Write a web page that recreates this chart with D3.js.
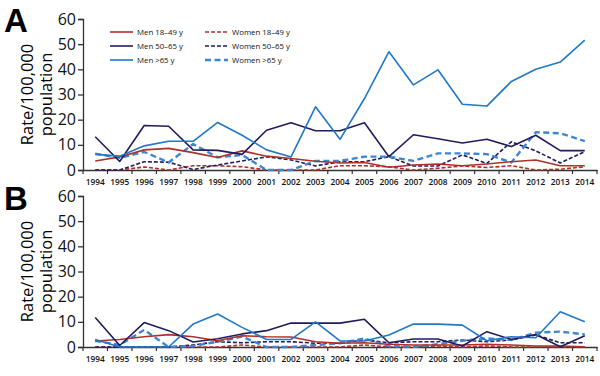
<!DOCTYPE html>
<html>
<head>
<meta charset="utf-8">
<script src="https://cdn.jsdelivr.net/npm/d3@7"></script>
<style>
  body { margin: 0; background: #fff; }
  text { font-family: "Open Sans", "Liberation Sans", sans-serif; }
</style>
</head>
<body>
<div id="chart"></div>
<script>
// years on x axis
const years = d3.range(1994, 2015).map(String);
const yTicks = [0, 10, 20, 30, 40, 50, 60];

// panel A values (rate per 100,000)
const aMen1849 = [3.6, 5.2, 8, 8.6, 6.9, 5, 7.6, 5.5, 4.6, 3.5, 2.8, 3, 1.1, 2, 2.4, 1.7, 2.4, 3.3, 4, 1.7, 1.7];
const aMen5065 = [13.2, 3.4, 17.7, 17.4, 8, 7.8, 6.2, 15.8, 18.8, 15.6, 15.6, 18.8, 5.3, 14, 12.4, 10.7, 12.2, 9.3, 13.8, 7.7, 7.7];
const aMen65 = [6.2, 5.5, 9.6, 11.4, 11.4, 18.9, 13.8, 8, 5.2, 25.1, 12.2, 28.4, 47, 33.8, 39.8, 26.1, 25.4, 35.2, 40, 42.9, 51.6];
const aWomen1849 = [0, 0, 1.2, 0, 1.7, 1.7, 1.3, 0, 0, 0, 1.7, 1.7, 1.3, 0, 0.7, 1.6, 1, 1.7, 0, 0.3, 1.3];
const aWomen5065 = [0, 0, 3.3, 3.1, 0.2, 2, 3.6, 5.2, 4, 1.6, 3.3, 3.3, 5.3, 1.6, 1.6, 6, 2.6, 11.2, 7.6, 2.8, 7.3];
const aWomen65 = [6.5, 4.8, 7.2, 3, 10.3, 5, 6, 0, 0, 3.6, 3.6, 5.3, 5.3, 3.6, 6.6, 6.6, 6.3, 3, 15, 14.6, 11.5];

// panel B values
const bMen1849 = [2.4, 3, 4.1, 4.9, 4.1, 2.5, 4.5, 4.1, 4, 2.1, 1.5, 1.7, 1.1, 0.8, 0.8, 0.8, 1.1, 0.8, 0.4, 0.4, 0.1];
const bMen5065 = [11.7, 0.6, 9.7, 6.5, 2, 3.3, 5.2, 6.5, 9.5, 9.5, 9.5, 11, 1.7, 3.2, 3.2, 0.4, 6.1, 3, 5, 0.1, 4.5];
const bMen65 = [3, 0, 0, 0, 9.1, 13.1, 7.8, 3, 3, 10, 2.4, 2.4, 4.8, 9.1, 9.1, 8.7, 2.5, 4.1, 3.7, 14, 10];
const bWomen1849 = [0, 0, 0, 0, 0, 0, 0.8, 0, 0, 0, 0, 0.8, 0, 0, 0.4, 0, 0.4, 0, 0, 0, 0];
const bWomen5065 = [0, 0, 0, 0, 0.8, 2.1, 1.7, 2.1, 2.1, 1.5, 1.5, 2.8, 1.7, 2.1, 2.1, 2.8, 2.1, 2.8, 4.8, 1.7, 1.7];
const bWomen65 = [2.5, 0.8, 6.8, 0, 0.4, 2.1, 4.1, 0, 0, 0.8, 1.5, 3.4, 0.4, 0.1, 1.1, 2.5, 3.4, 2.8, 5.7, 6.1, 5];

const seriesNames = ["Men 18\u201349 y", "Women 18\u201349 y", "Men 50\u201365 y", "Women 50\u201365 y", "Men >65 y", "Women >65 y"];

// line styles per series
const styles = {
    "Men 18\u201349 y": { color: "#b0302a", dash: null, w: 1.6 },
    "Women 18\u201349 y": { color: "#b0302a", dash: "4,2", w: 1.6 },
    "Men 50\u201365 y": { color: "#211c5c", dash: null, w: 1.6 },
    "Women 50\u201365 y": { color: "#211c5c", dash: "4,2", w: 1.6 },
    "Men >65 y": { color: "#1f78c8", dash: null, w: 1.6 },
    "Women >65 y": { color: "#3d86d2", dash: "6,3.5", w: 2.4 }
};

const panelA = {
    label: "A", top: 19, bottom: 170, legend: true,
    series: [aMen1849, aWomen1849, aMen5065, aWomen5065, aMen65, aWomen65]
};
const panelB = {
    label: "B", top: 196, bottom: 347, legend: false,
    series: [bMen1849, bWomen1849, bMen5065, bWomen5065, bMen65, bWomen65]
};

const svg = d3.select("#chart").append("svg")
    .attr("width", 600)
    .attr("height", 376);

const x = d3.scaleBand()
    .domain(years)
    .range([83, 597]);

function drawPanel(p) {
    const g = svg.append("g");
    const y = d3.scaleLinear().domain([0, 60]).range([p.bottom, p.top]);

    // panel letter
    g.append("text")
        .attr("x", 4)
        .attr("y", p.top + (p.label == "A" ? 13 : 14))
        .style("font-family", "'Liberation Sans', Arial, sans-serif")
        .style("font-size", "33px")
        .style("font-weight", "bold")
        .text(p.label);

    // y axis
    const yAxis = g.append("g")
        .attr("transform", "translate(83,0)")
        .call(d3.axisLeft(y).tickValues(yTicks).tickSize(5).tickPadding(2));
    yAxis.select(".domain").attr("stroke", "#333").attr("stroke-width", 1.3);
    yAxis.selectAll(".tick line").attr("stroke", "#333").attr("stroke-width", 1.3);
    yAxis.selectAll("text")
        .attr("fill", "#111")
        .style("font-size", "16px")
        .style("font-family", "'Open Sans', sans-serif");

    // x axis with ticks on band boundaries
    const xAxis = g.append("g")
        .attr("transform", `translate(0,${p.bottom})`)
        .call(d3.axisBottom(x).tickSize(0).tickPadding(9));
    xAxis.select(".domain").attr("stroke", "#333").attr("stroke-width", 1.3);
    xAxis.selectAll("text")
        .attr("fill", "#111")
        .style("font-size", "8.3px")
        .style("font-weight", "600");
    xAxis.selectAll(".bnd")
        .data(years.concat(["end"]))
        .enter()
        .append("line")
        .attr("x1", (d, i) => i < years.length ? x(d) : x.range()[1])
        .attr("x2", (d, i) => i < years.length ? x(d) : x.range()[1])
        .attr("y1", 0)
        .attr("y2", 4)
        .attr("stroke", "#333")
        .attr("stroke-width", 1.2);

    // y axis title
    const cy = (p.top + p.bottom) / 2;
    g.append("text")
        .attr("transform", `translate(33,${cy}) rotate(-90)`)
        .attr("text-anchor", "middle")
        .style("font-size", "16.5px")
        .text("Rate/100,000");
    g.append("text")
        .attr("transform", `translate(52,${cy}) rotate(-90)`)
        .attr("text-anchor", "middle")
        .style("font-size", "16.5px")
        .text("population");

    // lines
    const line = d3.line()
        .x((d, i) => x(years[i]) + x.bandwidth() / 2)
        .y(d => y(d));

    const order = [1, 3, 5, 0, 2, 4];
    order.forEach(k => {
        const st = styles[seriesNames[k]];
        g.append("path")
            .datum(p.series[k])
            .attr("d", line)
            .attr("fill", "none")
            .attr("stroke", st.color)
            .attr("stroke-width", st.w)
            .attr("stroke-dasharray", st.dash)
            .attr("stroke-linejoin", "round");
    });

    // legend
    if (p.legend) {
        const leg = g.selectAll(".legend")
            .data(seriesNames)
            .enter()
            .append("g")
            .attr("transform", (d, i) => `translate(${i % 2 == 0 ? 110 : 205},${32 + Math.floor(i / 2) * 14})`);
        leg.append("line")
            .attr("x1", 0).attr("x2", 23)
            .attr("stroke", d => styles[d].color)
            .attr("stroke-width", d => styles[d].w)
            .attr("stroke-dasharray", d => styles[d].dash);
        leg.append("text")
            .attr("x", 27)
            .attr("y", 2.7)
            .style("font-size", "7.8px")
            .attr("fill", "#111")
            .text(d => d);
    }
}

drawPanel(panelA);
drawPanel(panelB);
</script>
</body>
</html>
